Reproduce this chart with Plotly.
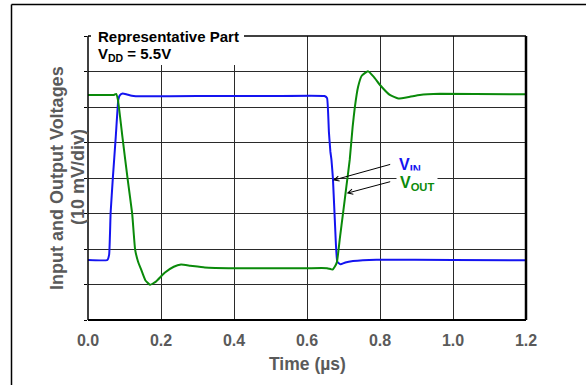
import plotly.graph_objects as go

# Scope capture: time in microseconds, voltage in divisions (10 mV/div)
t_in = [0, 0.053, 0.058, 0.062, 0.068, 0.076, 0.083, 0.087, 0.095, 0.105, 0.12, 0.146,
        0.3, 0.5, 0.648, 0.655, 0.660, 0.664, 0.667, 0.671, 0.677, 0.683, 0.692, 0.705,
        0.726, 0.79, 1.0, 1.2]
v_in = [1.69, 1.69, 1.85, 3.02, 3.99, 5.15, 6.20, 6.33, 6.38, 6.36, 6.32, 6.30,
        6.31, 6.31, 6.31, 6.25, 5.30, 4.75, 4.51, 3.99, 2.63, 1.64, 1.57, 1.62,
        1.66, 1.70, 1.69, 1.68]

t_out = [0, 0.071, 0.077, 0.082, 0.095, 0.109, 0.121, 0.129, 0.137, 0.146, 0.157, 0.170,
         0.186, 0.21, 0.235, 0.255, 0.28, 0.32, 0.4, 0.6, 0.655, 0.670, 0.676, 0.682,
         0.690, 0.699, 0.708, 0.717, 0.725, 0.731, 0.740, 0.750, 0.767, 0.783, 0.800,
         0.827, 0.850, 0.882, 0.909, 0.964, 1.2]
v_out = [6.34, 6.34, 6.37, 6.20, 5.10, 3.94, 3.00, 1.99, 1.65, 1.41, 1.12, 0.99,
         1.08, 1.33, 1.50, 1.56, 1.53, 1.48, 1.46, 1.46, 1.46, 1.42, 1.50, 1.63,
         2.30, 3.03, 3.77, 4.51, 5.44, 5.99, 6.57, 6.88, 7.01, 6.85, 6.62,
         6.34, 6.24, 6.29, 6.34, 6.37, 6.36]

x_ticks = [0.0, 0.2, 0.4, 0.6, 0.8, 1.0, 1.2]
x_tick_text = ["0.0", "0.2", "0.4", "0.6", "0.8", "1.0", "1.2"]

BLUE = "#1414f0"
GREEN = "#0a8a0a"
GRAY = "#5a5a5a"
FONT = "Liberation Sans, Arial, sans-serif"

L, R, T, B = 88, 60, 36, 65
W, H = 586, 385
PW, PH = W - L - R, H - T - B


def px(x):
    return (x - L) / PW


def py(y):
    return (H - B - y) / PH


fig = go.Figure()
fig.add_trace(go.Scatter(x=t_in, y=v_in, mode="lines",
                         line=dict(color=BLUE, width=2, shape="spline", smoothing=0.35),
                         hoverinfo="skip"))
fig.add_trace(go.Scatter(x=t_out, y=v_out, mode="lines",
                         line=dict(color=GREEN, width=2, shape="spline", smoothing=0.35),
                         hoverinfo="skip"))

shapes = [
    # white panel behind the caption
    dict(type="rect", xref="paper", yref="paper", x0=px(91), x1=px(244), y0=py(65), y1=py(24),
         fillcolor="white", line=dict(width=0), layer="above"),
    # plot frame
    dict(type="line", xref="paper", yref="paper", x0=0, x1=0, y0=0, y1=1,
         line=dict(color="black", width=1.5), layer="above"),
    dict(type="line", xref="paper", yref="paper", x0=px(244), x1=1, y0=1, y1=1,
         line=dict(color="black", width=1.5), layer="above"),
    dict(type="line", xref="paper", yref="paper", x0=0, x1=px(91), y0=1, y1=1,
         line=dict(color="black", width=1.5), layer="above"),
    dict(type="line", xref="paper", yref="paper", x0=1, x1=1, y0=0, y1=1,
         line=dict(color="black", width=2.5), layer="above"),
    dict(type="line", xref="paper", yref="paper", x0=0, x1=1, y0=0, y1=0,
         line=dict(color="black", width=2), layer="above"),
    # outer border
    dict(type="line", xref="paper", yref="paper", x0=px(11.5), x1=px(11.5), y0=py(4.5), y1=py(420),
         line=dict(color="black", width=1.5)),
    dict(type="line", xref="paper", yref="paper", x0=px(11.5), x1=px(620), y0=py(4.5), y1=py(4.5),
         line=dict(color="black", width=1.5)),
]

annotations = [
    dict(xref="paper", yref="paper", x=px(96), y=py(36), xanchor="left", yanchor="middle",
         text="<b>Representative Part</b>", showarrow=False,
         font=dict(family=FONT, size=15, color="black")),
    dict(xref="paper", yref="paper", x=px(96), y=py(54), xanchor="left", yanchor="middle",
         text="<b>V<sub>DD</sub> = 5.5V</b>", showarrow=False,
         font=dict(family=FONT, size=15, color="black")),
    # axis titles
    dict(xref="paper", yref="paper", x=px(57), y=py(178), xanchor="center", yanchor="middle",
         text="<b>Input and Output Voltages</b>", textangle=-90, showarrow=False,
         font=dict(family=FONT, size=18, color=GRAY)),
    dict(xref="paper", yref="paper", x=px(78), y=py(177), xanchor="center", yanchor="middle",
         text="<b>(10 mV/div)</b>", textangle=-90, showarrow=False,
         font=dict(family=FONT, size=18, color=GRAY)),
    dict(xref="paper", yref="paper", x=px(307), y=py(364), xanchor="center", yanchor="middle",
         text="<b>Time (µs)</b>", showarrow=False,
         font=dict(family=FONT, size=17.5, color=GRAY)),
    # trace labels
    dict(xref="paper", yref="paper", x=px(396), y=py(165), xanchor="left", yanchor="middle",
         text="<b>V<sub>IN</sub></b>", showarrow=False, bgcolor="white", borderpad=2,
         font=dict(family=FONT, size=16, color=BLUE)),
    dict(xref="paper", yref="paper", x=px(396), y=py(183), xanchor="left", yanchor="middle",
         text="<b>V<sub>OUT</sub></b>", showarrow=False, bgcolor="white", borderpad=3,
         font=dict(family=FONT, size=16, color=GREEN)),
    # pointer arrows (tail offsets in pixels)
    dict(xref="paper", yref="paper", x=px(333), y=py(180.3), ax=58.7, ay=-16.3,
         axref="pixel", ayref="pixel", text="", showarrow=True,
         arrowhead=5, arrowsize=1, arrowwidth=1, arrowcolor="black"),
    dict(xref="paper", yref="paper", x=px(346.7), y=py(193.3), ax=45, ay=-12,
         axref="pixel", ayref="pixel", text="", showarrow=True,
         arrowhead=5, arrowsize=1, arrowwidth=1, arrowcolor="black"),
]

fig.update_layout(
    width=W, height=H,
    margin=dict(l=L, r=R, t=T, b=B, pad=0),
    paper_bgcolor="white", plot_bgcolor="white",
    showlegend=False,
    shapes=shapes,
    annotations=annotations,
    xaxis=dict(range=[0, 1.2], tickvals=x_ticks, ticktext=x_tick_text,
               showgrid=True, gridcolor="#2a2a2a", gridwidth=1.2,
               zeroline=False, showline=False, ticks="", ticklabelstandoff=9,
               tickfont=dict(family=FONT, size=16, color=GRAY, weight="bold")),
    yaxis=dict(range=[0, 8], dtick=1, showticklabels=False,
               showgrid=True, gridcolor="#2a2a2a", gridwidth=1.2,
               zeroline=False, showline=False,
               ticks="outside", ticklen=3, tickcolor="black", tickwidth=1),
)

fig.write_html("out.html")
